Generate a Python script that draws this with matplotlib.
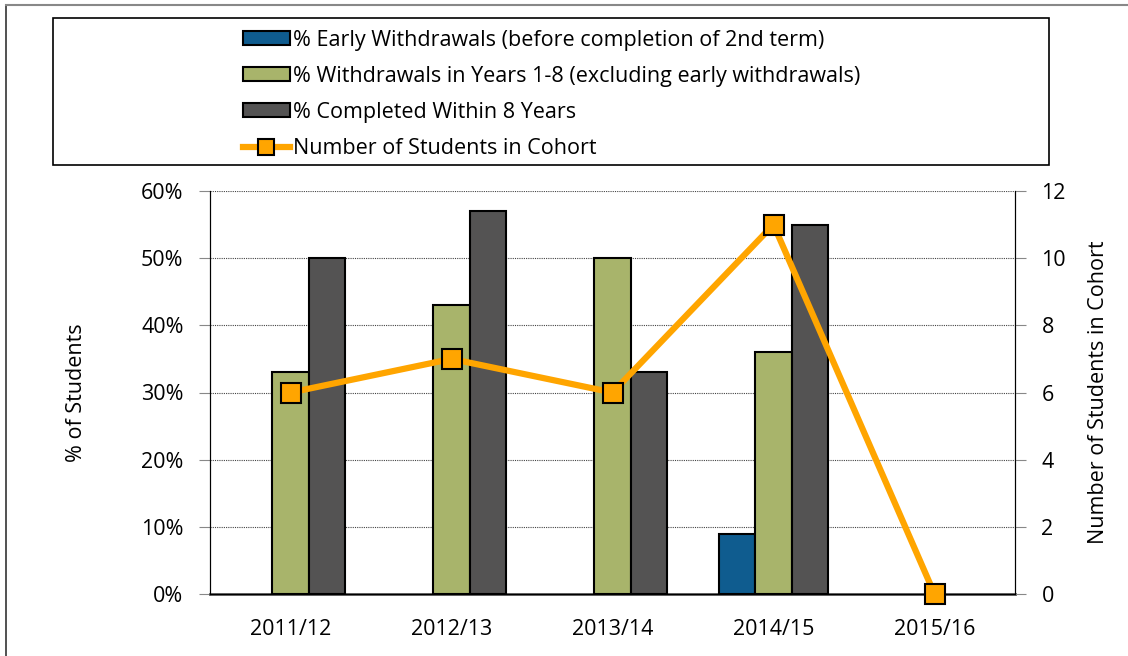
import matplotlib
matplotlib.use("Agg")
import matplotlib.pyplot as plt
from matplotlib.patches import Rectangle, Patch
from matplotlib.lines import Line2D
import numpy as np

plt.rcParams['font.family'] = ["Open Sans", 'DejaVu Sans']

categories = ["2011/12", "2012/13", "2013/14", "2014/15", "2015/16"]
early_withdrawals = [np.nan, np.nan, np.nan, 9, np.nan]
withdrawals_1_8 = [33, 43, 50, 36, np.nan]
completed_8 = [50, 57, 33, 55, np.nan]
cohort_size = [6, 7, 6, 11, 0]

W, H = 1128, 656
fig = plt.figure(figsize=(W / 100, H / 100), dpi=100)
ax = fig.add_axes([210 / W, 1 - 594 / H, (1015 - 210) / W, (594 - 191) / H])
ax2 = ax.twinx()

x = np.arange(len(categories))
bw = 0.224
cols = ["#0F5C8F", "#A8B46B", "#545353"]
for off, vals, c in zip([-bw, 0, bw], [early_withdrawals, withdrawals_1_8, completed_8], cols):
    ax.bar(x + off, vals, width=bw, color=c, edgecolor="black", linewidth=1.5, zorder=3)

FS = 15.5
ax.set_xlim(-0.5, len(categories) - 0.5)
ax.set_ylim(0, 60)
ax.set_yticks(range(0, 61, 10))
ax.set_yticklabels([f"{v}%" for v in range(0, 61, 10)])
ax.set_xticks(x)
ax.set_xticklabels(categories)
ax.yaxis.grid(True, linestyle=(0, (1, 1)), color="#444444", linewidth=0.8, zorder=0)
ax.set_axisbelow(True)
ax.spines["top"].set_visible(False)
ax2.spines["top"].set_visible(False)
ax.spines["left"].set_color("black")
ax.spines["bottom"].set_color("#555555")
ax.spines["bottom"].set_linewidth(2)
ax.tick_params(axis="x", length=0, labelsize=FS, pad=18)
ax.tick_params(axis="y", length=8, color="#888888", labelsize=FS, pad=11)
ax.set_ylabel("% of Students", fontsize=FS, labelpad=39)

ax2.plot(x, cohort_size, color="#FFA500", linewidth=4.5, marker="s", markersize=14,
         markerfacecolor="#FFA500", markeredgecolor="black", markeredgewidth=1.5,
         zorder=5, clip_on=False)
ax2.set_ylim(0, 12)
ax2.set_yticks(range(0, 13, 2))
ax2.tick_params(axis="y", length=8, color="#888888", labelsize=FS, pad=11)
ax2.set_ylabel("Number of Students in Cohort", fontsize=FS, labelpad=16)
ax2.spines["right"].set_color("black")

# outer border lines
fig.add_artist(Line2D([6 / W, 6 / W], [0, 1 - 5 / H], transform=fig.transFigure, color="#333333", lw=1.2))
fig.add_artist(Line2D([6 / W, 1], [1 - 5 / H, 1 - 5 / H], transform=fig.transFigure, color="#888888", lw=1.5))
# legend box
fig.add_artist(Rectangle((53 / W, 1 - 165 / H), (1049 - 53) / W, (165 - 18) / H,
                         transform=fig.transFigure, fill=False, edgecolor="black", lw=1.2))

handles = [
    Patch(facecolor=cols[0], edgecolor="black", linewidth=1.5),
    Patch(facecolor=cols[1], edgecolor="black", linewidth=1.5),
    Patch(facecolor=cols[2], edgecolor="black", linewidth=1.5),
    Line2D([], [], color="#FFA500", linewidth=4.5, marker="s", markersize=11,
           markerfacecolor="#FFA500", markeredgecolor="black", markeredgewidth=1.5),
]
labels = ["% Early Withdrawals (before completion of 2nd term)",
          "% Withdrawals in Years 1-8 (excluding early withdrawals)",
          "% Completed Within 8 Years",
          "Number of Students in Cohort"]
leg = fig.legend(handles, labels, loc="upper left", bbox_to_anchor=(234 / W, 1 - 21 / H),
                 frameon=False, fontsize=FS, handlelength=2.2, handleheight=0.6,
                 handletextpad=0.15, labelspacing=0.7, borderaxespad=0)

fig.savefig("out.png", dpi=100)
